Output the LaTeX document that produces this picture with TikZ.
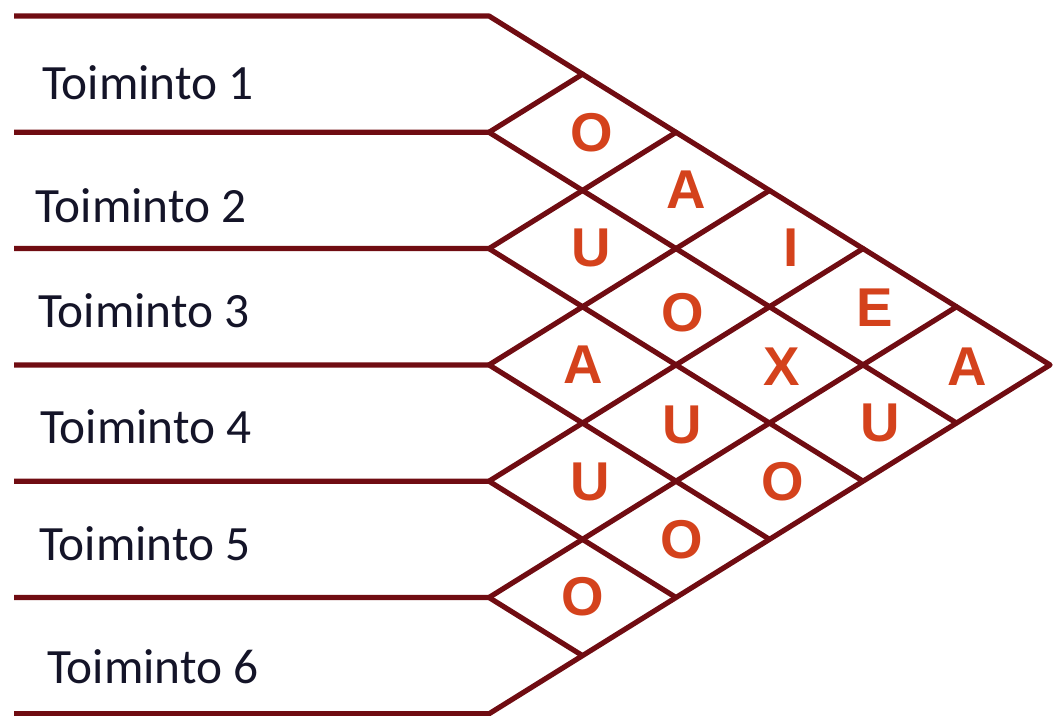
\documentclass[tikz,border=0pt]{standalone}
\usepackage{fontspec}
\setmainfont{Carlito}
\newfontfamily\cellfont{Liberation Sans}
\usetikzlibrary{calc}
\definecolor{rim}{RGB}{112,12,18}
\definecolor{mark}{RGB}{212,66,28}
\definecolor{ink}{RGB}{20,20,40}
\begin{document}
\begin{tikzpicture}[x=0.75pt,y=-0.75pt,
  grid/.style={draw=rim,line width=3.9pt,line join=round},
  diag/.style={grid,line cap=round},
  rowlabel/.style={anchor=base west,inner sep=0pt,text=ink,font=\fontsize{37}{40}\selectfont},
  rel/.style={inner sep=0pt,text=mark,font=\cellfont\bfseries\fontsize{41}{44}\selectfont}]
\useasboundingbox (0,0) rectangle (1055,716);

% row boundaries: left ends and the points where the slanted grid begins
\foreach \k in {0,...,6} {
  \coordinate (L\k) at (14,{16+116.3*\k});
  \coordinate (P\k) at (489,{16+116.3*\k});
}
% ends of the slanted lines on the outer edges
\foreach \k in {0,...,5}
  \coordinate (D\k) at ($(P\k)+({(6-\k)*93.5},{(6-\k)*58.15})$);
\foreach \k in {1,...,6}
  \coordinate (U\k) at ($(P\k)+({\k*93.5},{-\k*58.15})$);

% outer outline with the apex
\draw[grid] (L0) -- (P0) -- (D0) -- (P6) -- (L6);
% inner row lines and the matrix grid
\foreach \k in {1,...,5} {
  \draw[grid] (L\k) -- (P\k) -- (D\k);
  \draw[diag] (P\k) -- (U\k);
}

% activity labels
\node[rowlabel] (t1) at (42,100) {Toiminto 1};
\node[rowlabel] (t2) at (35,223) {Toiminto 2};
\node[rowlabel] (t3) at (38,327) {Toiminto 3};
\node[rowlabel] (t4) at (40,443) {Toiminto 4};
\node[rowlabel] (t5) at (39,560) {Toiminto 5};
\node[rowlabel] (t6) at (47,683) {Toiminto 6};

% closeness ratings
\node[rel] (c12) at (592,133) {O};
\node[rel] (c13) at (686,190) {A};
\node[rel] (c14) at (791,248) {I};
\node[rel] (c15) at (875,308) {E};
\node[rel] (c16) at (967,367) {A};
\node[rel] (c23) at (591,248) {U};
\node[rel] (c24) at (683,313) {O};
\node[rel] (c25) at (782,367) {X};
\node[rel] (c26) at (880,423) {U};
\node[rel] (c34) at (583,365) {A};
\node[rel] (c35) at (682,425) {U};
\node[rel] (c36) at (783,482) {O};
\node[rel] (c45) at (590,482) {U};
\node[rel] (c46) at (682,540) {O};
\node[rel] (c56) at (583,597) {O};
\end{tikzpicture}
\end{document}
